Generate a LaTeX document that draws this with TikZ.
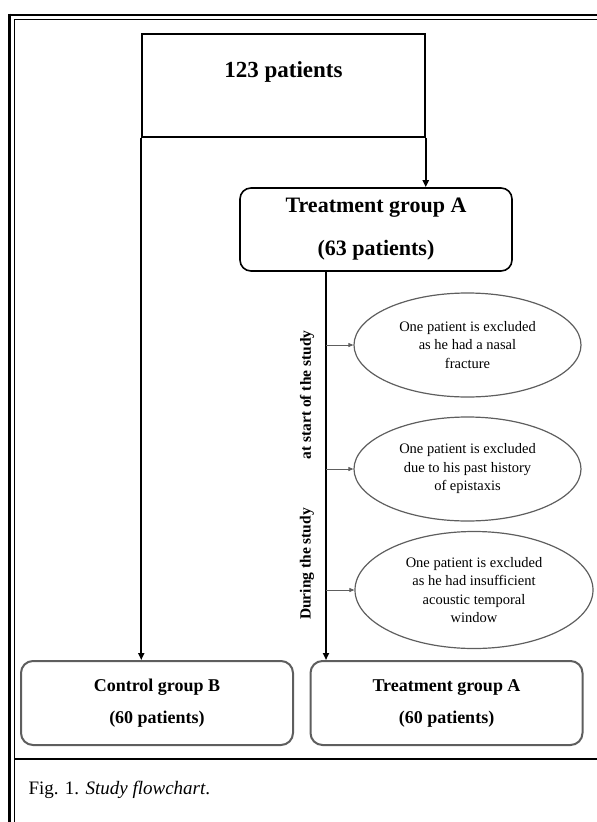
\documentclass[tikz,border=0pt]{standalone}
\usepackage{fontspec}
\setmainfont{Liberation Serif}
\usetikzlibrary{arrows.meta,shapes.geometric}
\definecolor{gline}{HTML}{5E5E5E}
\tikzset{
  sqbox/.style={draw=black, line width=1.5pt, minimum width=283pt, minimum height=103pt, inner sep=0pt},
  rbox/.style={draw=black, line width=1.6pt, rounded corners=11pt, minimum width=272pt, minimum height=83pt, inner sep=0pt},
  gbox/.style={draw=gline, line width=2pt, rounded corners=12pt, minimum width=272pt, minimum height=84pt, inner sep=0pt},
  ell/.style={ellipse, draw=gline, line width=1.2pt, inner sep=0pt, align=center, font=\fontsize{14.5}{18.5}\selectfont},
  bigtxt/.style={font=\fontsize{23}{27}\selectfont\bfseries},
  midtxt/.style={align=center, font=\fontsize{22}{43}\selectfont\bfseries},
  lowtxt/.style={align=center, font=\fontsize{18}{32}\selectfont\bfseries},
  sidetxt/.style={rotate=90, font=\fontsize{15.5}{18}\selectfont\bfseries},
  arr/.style={draw=black, line width=1.8pt, -{Triangle[length=7pt,width=6pt]}},
  garr/.style={draw=gline, line width=0.8pt, -{Triangle[length=5pt,width=4pt]}},
}
\begin{document}
\begin{tikzpicture}[x=1pt,y=-1pt]
\useasboundingbox (0,0) rectangle (597,822);
% frame
\draw[line width=2.6pt] (9.5,15) -- (597,15);
\draw[line width=1pt] (14,19.5) -- (597,19.5);
\draw[line width=2.6pt] (9.5,13.7) -- (9.5,822);
\draw[line width=1pt] (14,19) -- (14,822);
\draw[line width=1.2pt] (14,759) -- (597,759);
% nodes
\node[sqbox] (top) at (283.5,85.5) {};
\node[bigtxt] (toptxt) at (283.5,72) {123 patients};
\node[rbox, midtxt] (trtA) at (376,229.5) {Treatment group A\\(63 patients)};
\node[gbox, lowtxt] (ctrl) at (157,703) {Control group B\\(60 patients)};
\node[gbox, lowtxt] (trtB) at (446.5,703) {Treatment group A\\(60 patients)};
\node[ell, minimum width=227pt, minimum height=104pt] (e1) at (467.5,345) {One patient is excluded\\as he had a nasal\\fracture};
\node[ell, minimum width=227pt, minimum height=104pt] (e2) at (467.5,469) {One patient is excluded\\due to his past history\\of epistaxis};
\node[ell, minimum width=238pt, minimum height=117pt] (e3) at (474,590) {One patient is excluded\\as he had insufficient\\acoustic temporal\\window};
\node[sidetxt] (lab1) at (307,395) {at start of the study};
\node[sidetxt] (lab2) at (307,564) {During the study};
\node[anchor=west, font=\fontsize{19}{22}\selectfont] (cap) at (25,790) {Fig. 1. \textit{Study flowchart}.};
% connectors
\coordinate (vx) at (326,271);
\draw[arr] (top.south west) -- (top.south west |- ctrl.north);
\draw[arr] (top.south east) -- (top.south east |- trtA.north);
\draw[arr] (trtA.south -| vx) -- (vx |- trtB.north);
\draw[garr] (e1.west -| vx) -- (e1.west);
\draw[garr] (e2.west -| vx) -- (e2.west);
\draw[garr] (e3.west -| vx) -- (e3.west);
\end{tikzpicture}
\end{document}
